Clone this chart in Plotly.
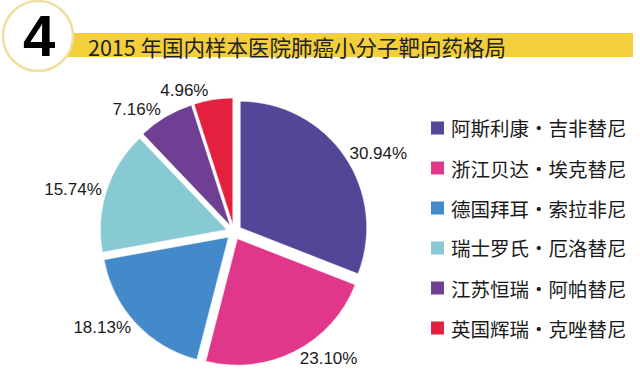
import plotly.graph_objects as go

# ---- data ----
companies = ["阿斯利康·吉非替尼", "浙江贝达·埃克替尼", "德国拜耳·索拉非尼",
             "瑞士罗氏·厄洛替尼", "江苏恒瑞·阿帕替尼", "英国辉瑞·克唑替尼"]
shares = [30.94, 23.10, 18.13, 15.74, 7.16, 4.96]
colors = ["#514796", "#E0378A", "#4489C9", "#88CAD3", "#6E3F92", "#E3203E"]
title_text = "2015 年国内样本医院肺癌小分子靶向药格局"
badge_text = "4"

W, H = 640, 388

def px(x):
    return x / W

def py(y):
    return 1 - y / H

fig = go.Figure()

fig.add_trace(go.Pie(
    labels=companies,
    values=shares,
    sort=False,
    direction="clockwise",
    rotation=0,
    pull=[0.06] * len(shares),
    marker=dict(colors=colors, line=dict(color="white", width=0.5)),
    texttemplate="%{value:.2f}%",
    textposition="outside",
    textfont=dict(family="Liberation Sans, Arial, sans-serif", size=17, color="#1a1a1a"),
    domain=dict(x=[px(234 - 134), px(234 + 134)], y=[py(232 + 134), py(232 - 134)]),
    showlegend=False,
    hoverinfo="label+percent",
))

shapes = []
annotations = []

# header bar
shapes.append(dict(type="rect", xref="paper", yref="paper",
                   x0=px(50), x1=px(633), y0=py(57), y1=py(33),
                   fillcolor="#F4CF3C", line=dict(width=0), layer="above"))
# badge circle
shapes.append(dict(type="circle", xref="paper", yref="paper",
                   x0=px(3), x1=px(73), y0=py(71), y1=py(1),
                   fillcolor="white", line=dict(color="#EEE0A0", width=2.5), layer="above"))
annotations.append(dict(text="<b>" + badge_text + "</b>", xref="paper", yref="paper",
                        x=px(39), y=py(35), xanchor="center", yanchor="middle",
                        showarrow=False,
                        font=dict(family="Liberation Sans Narrow, Liberation Sans, Arial, sans-serif",
                                  size=58, color="black")))
annotations.append(dict(text=title_text, xref="paper", yref="paper",
                        x=px(86), y=py(46), xanchor="left", yanchor="middle",
                        showarrow=False,
                        font=dict(family="Noto Sans CJK SC", size=21.5, color="#222222")))

# legend (manual)
leg_y0, leg_dy = 128, 40
for i, (name, col) in enumerate(zip(companies, colors)):
    yc = leg_y0 + i * leg_dy
    shapes.append(dict(type="rect", xref="paper", yref="paper",
                       x0=px(431), x1=px(444), y0=py(yc + 6.5), y1=py(yc - 6.5),
                       fillcolor=col, line=dict(width=0)))
    annotations.append(dict(text=name, xref="paper", yref="paper",
                            x=px(449), y=py(yc), xanchor="left", yanchor="middle",
                            showarrow=False,
                            font=dict(family="Noto Sans CJK SC", size=19.5, color="#1a1a1a")))

fig.update_layout(
    width=W, height=H,
    margin=dict(l=0, r=0, t=0, b=0),
    paper_bgcolor="white",
    plot_bgcolor="white",
    shapes=shapes,
    annotations=annotations,
)

fig.write_html("out.html")
